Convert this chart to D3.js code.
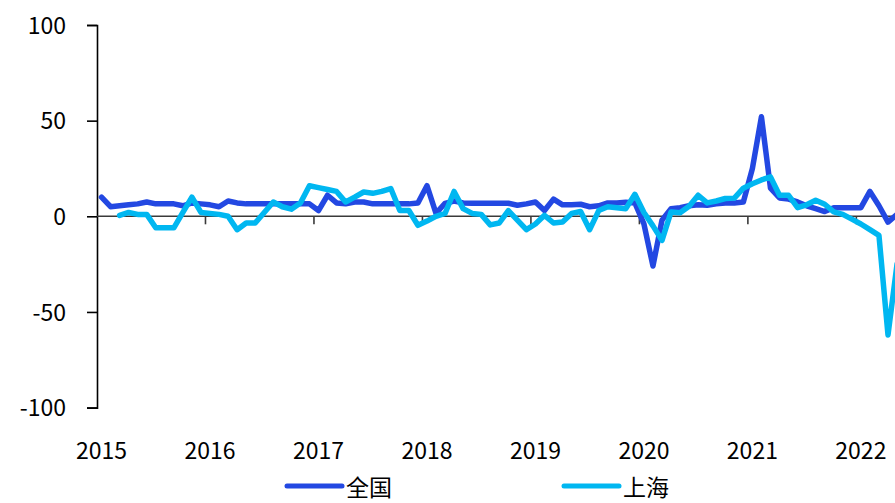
<!DOCTYPE html>
<html>
<head>
<meta charset="utf-8">
<script src="https://cdn.jsdelivr.net/npm/d3@7"></script>
<style>
    body { margin: 0; background: #fff; }
    svg { display: block; }
    text { font-family: "Noto Sans CJK SC", "Noto Sans", sans-serif; fill: #000; }
</style>
</head>
<body>
<div id="chart"></div>
<script>
// monthly, 2015-01 .. 2022-05
var years = ["2015", "2016", "2017", "2018", "2019", "2020", "2021", "2022"];
var seriesNames = ["全国", "上海"];
var yTicks = [100, 50, 0, -50, -100];

var national = [
    10, 5, 5.5, 6, 6.5, 7.5, 6.5, 6.5, 6.5, 5.5, 7, 6.5,
    6, 5, 8, 7, 6.5, 6.5, 6.5, 6.5, 6.5, 6.5, 6.5, 6.5,
    3, 11, 7, 6.5, 7.5, 7.5, 6.5, 6.5, 6.5, 6.5, 6.5, 7,
    16, 1.5, 6.8, 8, 7, 6.8, 6.8, 6.8, 6.8, 6.8, 5.8, 6.5,
    7.5, 3, 9, 6, 6, 6.3, 5, 5.5, 7, 7, 7.3, 7,
    -4, -26, -2, 4, 4.5, 5.5, 6, 5.8, 6.5, 7, 7, 7.5,
    25, 52, 14.7, 9.6, 9, 7.5, 5.5, 4, 2.5, 4.5, 4.5, 4.5,
    4.5, 13, 5.5, -3, 1
];

var shanghai = [
    null, null, 0.5, 2, 1, 1, -6, -6, -6, 2, 10, 2,
    1.5, 1, 0, -7, -3.5, -3.5, 2, 7.5, 5, 3.7, 7, 16,
    15, 14, 13, 7.5, 10, 12.7, 12, 13, 14.5, 3, 3, -4.7,
    -2.5, 0, 1.5, 13, 4, 1.5, 1, -4.5, -3.5, 3, -2, -7,
    -4, 0.5, -3.5, -3, 1.5, 2.5, -7, 3, 5, 4.5, 4, 11.5,
    2, -5, -12.6, 2.3, 1.8, 5.2, 11, 7, 8, 9.3, 9.5, 14.7,
    17, 19, 20.6, 11, 11, 4.5, 6, 8.4, 6.3, 2.3, 1, -1.5,
    -4, -7, -10, -62, -25
];

var colors = ["#2348e2", "#00b7f1"];

var width = 895, height = 503;

var svg = d3.select("#chart").append("svg")
    .attr("width", width)
    .attr("height", height);

var x = d3.scaleLinear()
    .domain([0, years.length * 12])
    .range([97, 97 + years.length * 12 * 9.04]);

var y = d3.scaleLinear()
    .domain([-100, 100])
    .range([407.6, 25]);

// y axis
var yAxis = d3.axisLeft(y)
    .tickValues(yTicks)
    .tickSize(10)
    .tickPadding(21)
    .tickFormat((d) => String(d));

var gy = svg.append("g")
    .attr("transform", "translate(97,0)")
    .call(yAxis);
gy.select(".domain").attr("stroke", "#000").attr("stroke-width", 1.6);
gy.selectAll(".tick line").attr("stroke", "#000").attr("stroke-width", 1.6);
gy.selectAll(".tick text")
    .style("font-size", "23px")
    .attr("dy", "0.36em");

// x axis along zero, ticks at year boundaries
var gx = svg.append("g")
    .attr("transform", "translate(0," + y(0) + ")");

gx.append("line")
    .attr("x1", x(0))
    .attr("x2", width)
    .attr("stroke", "#3a3a3a")
    .attr("stroke-width", 1.6);

gx.selectAll(".ytick")
    .data(d3.range(1, years.length + 1))
    .enter().append("line")
    .attr("class", "ytick")
    .attr("x1", (d) => x(d * 12))
    .attr("x2", (d) => x(d * 12))
    .attr("y1", 0)
    .attr("y2", 8)
    .attr("stroke", "#3a3a3a")
    .attr("stroke-width", 1.6);

svg.selectAll(".year")
    .data(years)
    .enter().append("text")
    .attr("class", "year")
    .attr("x", (d, i) => x(i * 12 + 0.5))
    .attr("y", 459)
    .attr("text-anchor", "middle")
    .style("font-size", "23px")
    .text((d) => d);

// lines
var line = d3.line()
    .defined((d) => d != null)
    .x((d, i) => x(i + 0.5))
    .y((d) => y(d));

[national, shanghai].forEach((data, k) => {
    svg.append("path")
        .datum(data)
        .attr("fill", "none")
        .attr("stroke", colors[k])
        .attr("stroke-width", 5.5)
        .attr("stroke-linejoin", "round")
        .attr("stroke-linecap", "round")
        .attr("d", line);
});

// legend
var legendX = [287, 564];
var legend = svg.selectAll(".legend")
    .data(seriesNames)
    .enter().append("g")
    .attr("class", "legend")
    .attr("transform", (d, i) => "translate(" + legendX[i] + ",486)");

legend.append("line")
    .attr("x1", 0)
    .attr("x2", 55)
    .attr("stroke", (d, i) => colors[i])
    .attr("stroke-width", 5)
    .attr("stroke-linecap", "round");

legend.append("text")
    .attr("x", 59)
    .attr("y", 10)
    .style("font-size", "23px")
    .text((d) => d);
</script>
</body>
</html>
